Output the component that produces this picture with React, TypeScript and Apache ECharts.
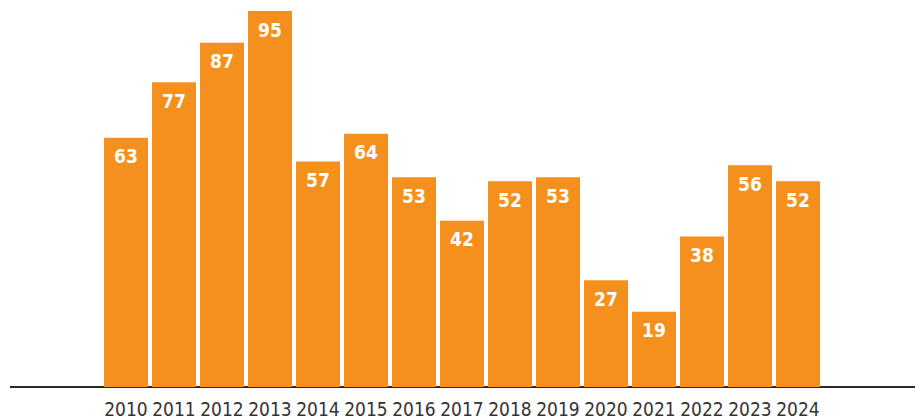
import React, { useEffect, useRef } from "react";
import * as echarts from "echarts";

const years = ["2010", "2011", "2012", "2013", "2014", "2015", "2016", "2017", "2018", "2019", "2020", "2021", "2022", "2023", "2024"];
const values = [63, 77, 87, 95, 57, 64, 53, 42, 52, 53, 27, 19, 38, 56, 52];

export default function App() {
  const ref = useRef<HTMLDivElement>(null);
  useEffect(() => {
    const chart = echarts.init(ref.current!, undefined, { renderer: "svg" });
    chart.setOption({
      animation: false,
      grid: { left: 102, right: 95, top: 11, bottom: 31, containLabel: false },
      xAxis: {
        type: "category",
        data: years,
        axisLine: { show: false },
        axisTick: { show: false },
        axisLabel: {
          color: "#333333",
          fontFamily: "DejaVu Sans Condensed",
          fontSize: 19,
          margin: 12,
          interval: 0,
        },
      },
      yAxis: {
        type: "value",
        min: 0,
        max: 95,
        show: false,
        splitLine: { show: false },
      },
      graphic: [
        {
          type: "line",
          shape: { x1: 10, y1: 387, x2: 915, y2: 387 },
          style: { stroke: "#2a2a2a", lineWidth: 2 },
          z: 0,
        },
      ],
      series: [
        {
          type: "bar",
          data: values,
          barWidth: 44,
          itemStyle: { color: "#F5901F" },
          z: 5,
          label: {
            show: true,
            position: "insideTop",
            distance: 9,
            color: "#ffffff",
            fontFamily: "DejaVu Sans Condensed",
            fontWeight: "bold",
            fontSize: 19,
          },
        },
      ],
    });
    return () => chart.dispose();
  }, []);
  return <div ref={ref} style={{ width: 917, height: 418, position: "absolute", left: 0, top: 0 }} />;
}
